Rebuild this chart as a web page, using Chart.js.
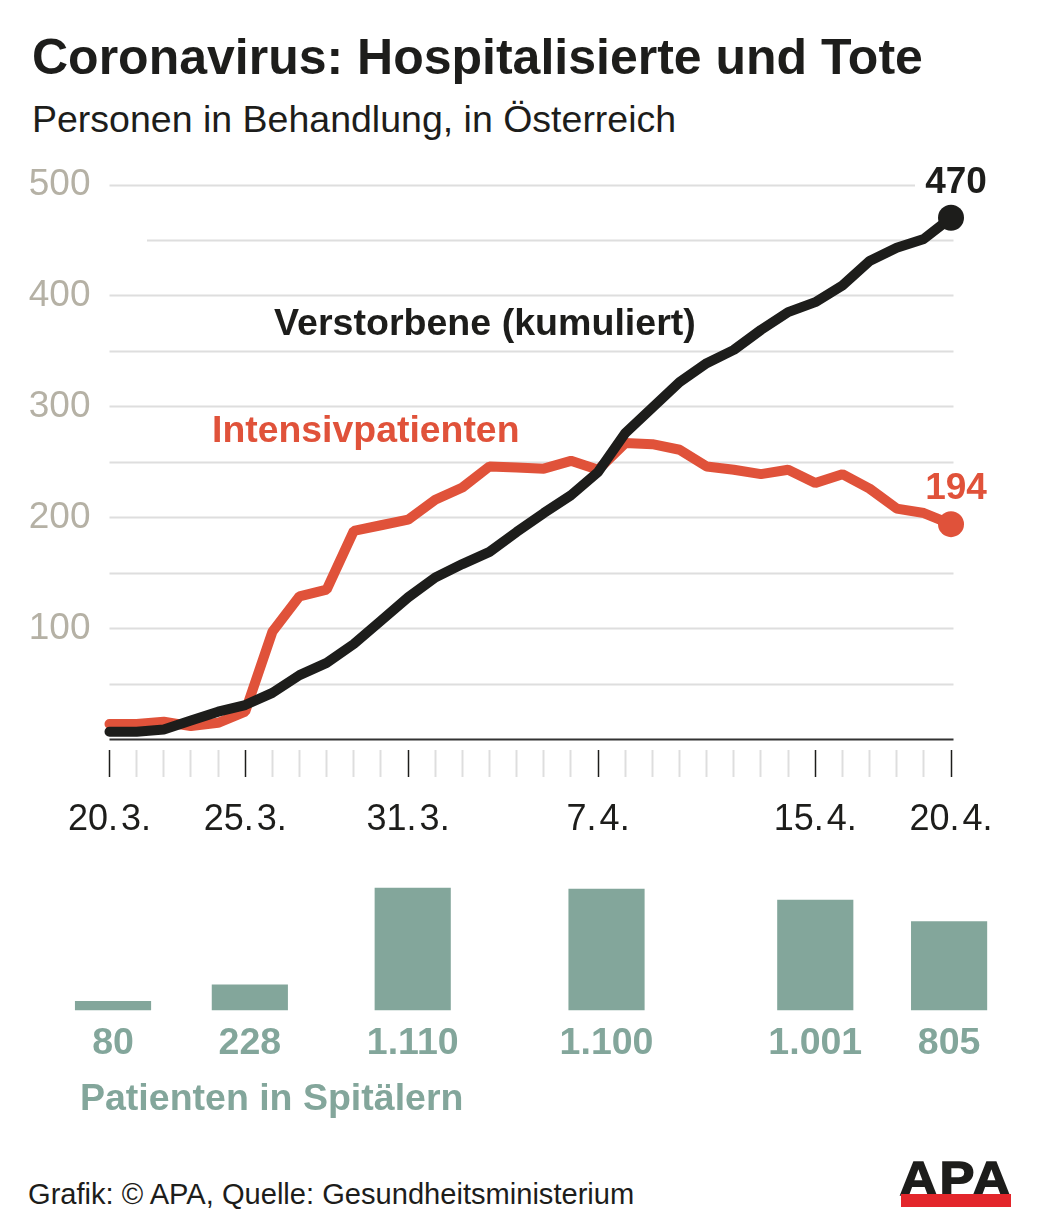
<!DOCTYPE html>
<html lang="de">
<head>
<meta charset="utf-8">
<title>Coronavirus: Hospitalisierte und Tote</title>
<script src="https://cdn.jsdelivr.net/npm/chart.js@4"></script>
<style>
  html, body { margin: 0; background: #fff; }
  #page { position: relative; width: 1040px; height: 1228px; overflow: hidden; font-family: "Liberation Sans", Arial, sans-serif; }
  canvas { position: absolute; left: 0; }
  .txt { position: absolute; white-space: nowrap; line-height: 1; }
  #title { left: 32px; top: 32px; font-size: 50px; font-weight: bold; color: #1d1d1b; }
  #subtitle { left: 32px; top: 101px; font-size: 37.5px; color: #1d1d1b; }
  #nameDeaths { left: 274px; top: 304px; font-size: 37.6px; font-weight: bold; color: #1d1d1b; }
  #nameIcu { left: 212px; top: 411px; font-size: 37.4px; font-weight: bold; color: #e0523a; }
  #nameHosp { left: 80px; top: 1079px; font-size: 37.5px; font-weight: bold; color: #83a69b; }
  #source { left: 28px; top: 1180px; font-size: 29.1px; color: #1d1d1b; }
  #logoText { left: 901px; top: 1155px; width: 110px; text-align: center; font-size: 48px; font-weight: bold; color: #1d1d1b; letter-spacing: 2px; -webkit-text-stroke: 1.5px #1d1d1b; transform: scaleX(1.09); }
  #logoBar { position: absolute; left: 901px; top: 1194px; width: 110px; height: 13px; background: #e3262b; }
</style>
</head>
<body>
<div id="page">
  <div class="txt" id="title">Coronavirus: Hospitalisierte und Tote</div>
  <div class="txt" id="subtitle">Personen in Behandlung, in Österreich</div>
  <canvas id="lineChart" width="1040" height="860" style="top:0"></canvas>
  <div class="txt" id="nameDeaths">Verstorbene (kumuliert)</div>
  <div class="txt" id="nameIcu">Intensivpatienten</div>
  <canvas id="barChart" width="1040" height="210" style="top:870px"></canvas>
  <div class="txt" id="nameHosp">Patienten in Spitälern</div>
  <div class="txt" id="source">Grafik: © APA, Quelle: Gesundheitsministerium</div>
  <div class="txt" id="logoText">APA</div>
  <div id="logoBar"></div>
</div>
<script>
// Daten
const days = [
  '20. 3.', '21. 3.', '22. 3.', '23. 3.', '24. 3.', '25. 3.', '26. 3.', '27. 3.', '28. 3.', '29. 3.', '30. 3.', '31. 3.',
  '1. 4.', '2. 4.', '3. 4.', '4. 4.', '5. 4.', '6. 4.', '7. 4.', '8. 4.', '9. 4.', '10. 4.', '11. 4.', '12. 4.',
  '13. 4.', '14. 4.', '15. 4.', '16. 4.', '17. 4.', '18. 4.', '19. 4.', '20. 4.'
];
const labelledDays = ['20. 3.', '25. 3.', '31. 3.', '7. 4.', '15. 4.', '20. 4.'];
const icuPatients = [14, 14, 16, 12, 15, 25, 97, 129, 135, 188, 193, 198, 216, 227, 246, 245, 244, 251, 243, 267, 266, 261, 246, 243, 239, 243, 231, 239, 226, 208, 204, 194];
const deaths = [7, 7, 9, 17, 25, 31, 42, 58, 69, 86, 107, 128, 146, 158, 169, 187, 204, 220, 241, 276, 299, 322, 339, 351, 369, 385, 394, 409, 431, 443, 451, 470];
const gridValues = [0, 50, 100, 150, 200, 250, 300, 350, 400, 450, 500];
const yTickLabels = [100, 200, 300, 400, 500];
const hospitalDays = [0.13, 5.17, 11.17, 18.31, 26, 30.93];
const hospitalPatients = [80, 228, 1110, 1100, 1001, 805];
const hospitalLabels = ['80', '228', '1.110', '1.100', '1.001', '805'];

const BLACK = '#1d1d1b';
const RED = '#e0523a';
const TEAL = '#83a69b';
const GRID = '#dedede';
const FONT = '"Liberation Sans", Arial, sans-serif';

// Hilfslinien: 450 beginnt weiter rechts, 500 endet vor dem Wert
const gridLines = {
  id: 'gridLines',
  beforeDatasetsDraw(chart) {
    const { ctx, scales: { x, y } } = chart;
    ctx.save();
    gridValues.forEach(v => {
      const py = Math.round(y.getPixelForValue(v)) + 0.5;
      ctx.beginPath();
      ctx.moveTo(v === 450 ? 147 : x.left, py);
      ctx.lineTo(v === 500 ? 915 : x.right + 2.5, py);
      ctx.lineWidth = 2;
      ctx.strokeStyle = v === 0 ? '#333333' : GRID;
      ctx.stroke();
    });
    ctx.restore();
  }
};

// Endwerte über den Punkten
const endLabels = {
  id: 'endLabels',
  afterDatasetsDraw(chart) {
    const { ctx } = chart;
    ctx.save();
    ctx.font = 'bold 37px ' + FONT;
    ctx.textAlign = 'center';
    ctx.textBaseline = 'middle';
    chart.data.datasets.forEach((ds, i) => {
      const pt = chart.getDatasetMeta(i).data[ds.data.length - 1];
      ctx.fillStyle = ds.borderColor;
      ctx.fillText(String(ds.data[ds.data.length - 1]), pt.x + 5, pt.y - 35);
    });
    ctx.restore();
  }
};

// Datumsbeschriftung enger setzen, wie im Original
const tightDates = {
  id: 'tightDates',
  beforeDraw(chart) { chart.ctx.wordSpacing = '-7px'; }
};

const lastPointOnly = ctx => (ctx.dataIndex === days.length - 1 ? 13 : 0);

new Chart(document.getElementById('lineChart'), {
  type: 'line',
  data: {
    labels: days,
    // die erste Reihe liegt oben
    datasets: [
      { label: 'Verstorbene (kumuliert)', data: deaths, borderColor: BLACK, backgroundColor: BLACK },
      { label: 'Intensivpatienten', data: icuPatients, borderColor: RED, backgroundColor: RED }
    ]
  },
  options: {
    responsive: false,
    animation: false,
    layout: { padding: { top: 184.5, right: 89, bottom: 10, left: 0 } },
    elements: {
      line: { borderWidth: 10, tension: 0, borderCapStyle: 'round', borderJoinStyle: 'bevel' },
      point: { radius: lastPointOnly, borderWidth: 0, hoverRadius: lastPointOnly }
    },
    datasets: { line: { clip: false } },
    plugins: { legend: { display: false }, tooltip: { enabled: false } },
    scales: {
      x: {
        type: 'category',
        offset: false,
        border: { display: false },
        afterFit: axis => { axis.height = 100; },
        grid: {
          drawOnChartArea: false,
          tickLength: 27,
          tickWidth: ctx => (labelledDays.includes(days[ctx.index]) ? 1.5 : 2),
          tickColor: ctx => (labelledDays.includes(days[ctx.index]) ? BLACK : GRID)
        },
        ticks: {
          autoSkip: false,
          maxRotation: 0,
          padding: 21,
          color: BLACK,
          font: { family: FONT, size: 36 },
          callback: (value, i) => (labelledDays.includes(days[i]) ? days[i] : '')
        }
      },
      y: {
        min: -9.5,
        max: 500,
        afterFit: axis => { axis.width = 109.5; },
        afterBuildTicks: axis => { axis.ticks = gridValues.map(value => ({ value })); },
        border: { display: false },
        grid: { display: false },
        ticks: {
          padding: 11,
          color: '#b5b1a5',
          font: { family: FONT, size: 37 },
          callback: value => (yTickLabels.includes(value) ? String(value) : '')
        }
      }
    }
  },
  plugins: [tightDates, gridLines, endLabels]
});

new Chart(document.getElementById('barChart'), {
  type: 'bar',
  data: {
    datasets: [{
      label: 'Patienten in Spitälern',
      data: hospitalDays.map((x, i) => ({ x, y: hospitalPatients[i] })),
      backgroundColor: TEAL,
      barThickness: 75.5,
      clip: false
    }]
  },
  options: {
    responsive: false,
    animation: false,
    layout: { padding: { top: 18, right: 89, bottom: 0, left: 109.5 } },
    plugins: { legend: { display: false }, tooltip: { enabled: false } },
    scales: {
      x: {
        type: 'linear',
        min: 0,
        max: days.length - 1,
        offset: false,
        afterBuildTicks: axis => { axis.ticks = hospitalDays.map(value => ({ value })); },
        afterFit: axis => { axis.height = 70; },
        border: { display: false },
        grid: { display: false },
        ticks: {
          autoSkip: false,
          maxRotation: 0,
          padding: 3,
          color: TEAL,
          font: { family: FONT, size: 37.5, weight: 'bold' },
          callback: value => hospitalLabels[hospitalDays.indexOf(value)]
        }
      },
      y: { display: false, min: 0, max: 1110 }
    }
  }
});
</script>
</body>
</html>
